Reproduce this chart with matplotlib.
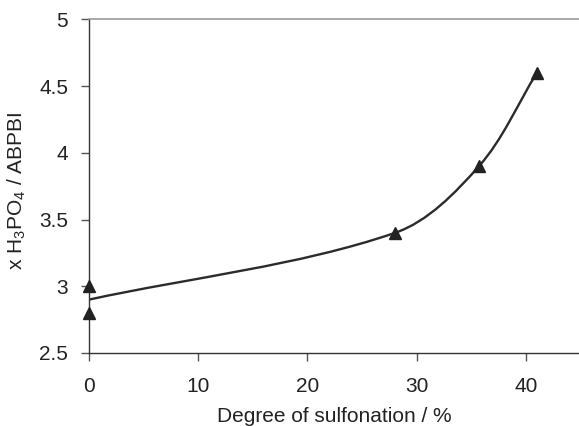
import numpy as np
import matplotlib
matplotlib.use("Agg")
import matplotlib.pyplot as plt
from matplotlib.path import Path
from matplotlib.patches import PathPatch

plt.rcParams['font.family'] = ['Liberation Sans', 'DejaVu Sans']
plt.rcParams['mathtext.fontset'] = 'custom'
plt.rcParams['mathtext.rm'] = 'Liberation Sans'

# measured points
sulfonation = [0, 0, 28, 35.7, 41]
h3po4_uptake = [3.0, 2.8, 3.4, 3.9, 4.6]

x_ticks = [0, 10, 20, 30, 40]
y_ticks = [2.5, 3, 3.5, 4, 4.5, 5]
y_ticklabels = ['2.5', '3', '3.5', '4', '4.5', '5']

xlim = (0, 45)
ylim = (2.5, 5)
ax_rect = [0.1537, 0.1714, 0.849, 0.7829]
W, H = 5.79, 4.26
DPI = 100

# smoothed line through the mean value at each degree of sulfonation
xs = np.array(sulfonation)
ys = np.array(h3po4_uptake)
ux = np.unique(xs)
uy = np.array([ys[xs == v].mean() for v in ux])
pts = np.column_stack([ux, uy])

# pixel scale so segment lengths are measured like on screen
sx = ax_rect[2] * W * DPI / (xlim[1] - xlim[0])
sy = ax_rect[3] * H * DPI / (ylim[1] - ylim[0])
scaled = pts * [sx, sy]
n = len(pts)
seg = np.hypot(*np.diff(scaled, axis=0).T)

def tangent(i):
    # direction (per unit length) at point i
    if i == 0:
        return (pts[1] - pts[0]) / seg[0]
    if i == n - 1:
        return (pts[-1] - pts[-2]) / seg[-1]
    return (pts[i + 1] - pts[i - 1]) / (seg[i - 1] + seg[i])

verts = [pts[0]]
codes = [Path.MOVETO]
for i in range(n - 1):
    c1 = pts[i] + tangent(i) * seg[i] / 3
    c2 = pts[i + 1] - tangent(i + 1) * seg[i] / 3
    verts += [c1, c2, pts[i + 1]]
    codes += [Path.CURVE4] * 3

fig = plt.figure(figsize=(W, H), dpi=DPI)
ax = fig.add_axes(ax_rect)

ax.add_patch(PathPatch(Path(verts, codes), facecolor='none',
                       edgecolor='#2b2b2b', lw=1.7, zorder=2))
ax.plot(sulfonation, h3po4_uptake, linestyle='none', marker='^',
        markersize=8.5, color='#222222', zorder=3, clip_on=False)

ax.set_xlim(*xlim)
ax.set_ylim(*ylim)
ax.set_xticks(x_ticks)
ax.set_yticks(y_ticks)
ax.set_yticklabels(y_ticklabels)

ax.spines['right'].set_visible(False)
ax.spines['top'].set_color('#9a9a9a')
ax.spines['top'].set_linewidth(1.2)
for s in ['left', 'bottom']:
    ax.spines[s].set_color('#333333')
    ax.spines[s].set_linewidth(1.0)

ax.tick_params(direction='out', length=6, width=1.0, color='#555555',
               labelsize=15, labelcolor='#222222')
ax.tick_params(axis='x', pad=11)
ax.tick_params(axis='y', pad=9)

ax.set_xlabel('Degree of sulfonation / %', fontsize=15, color='#222222',
              labelpad=8)
ax.set_ylabel(r'x H$_\mathregular{3}$PO$_\mathregular{4}$ / ABPBI',
              fontsize=15, color='#222222', labelpad=7)
ax.yaxis.set_label_coords(-0.125, 0.485)

fig.savefig('out.png', dpi=DPI)
